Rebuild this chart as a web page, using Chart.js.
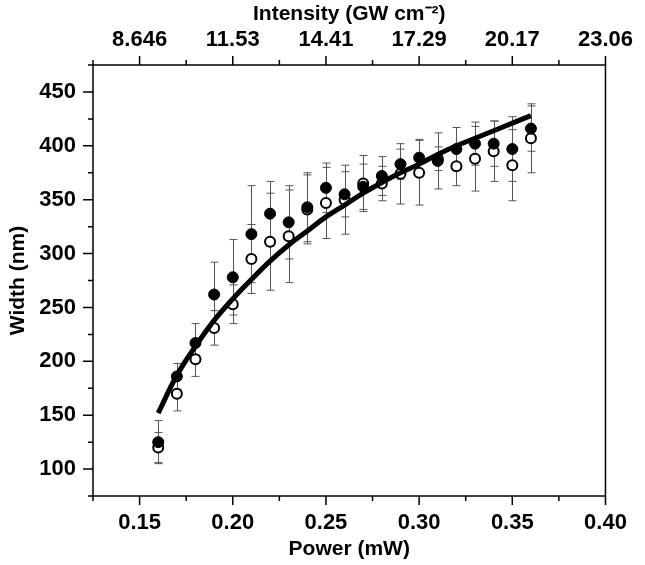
<!DOCTYPE html>
<html lang="en">
<head>
<meta charset="UTF-8">
<title>Width vs Power</title>
<script src="https://cdn.jsdelivr.net/npm/chart.js@4.4.0/dist/chart.umd.min.js"></script>
<style>
  html, body { margin: 0; padding: 0; background: #fff; }
  #wrap { width: 645px; height: 565px; }
</style>
</head>
<body>
<div id="wrap"><canvas id="chart" width="645" height="565"></canvas></div>
<script>
// data
const power = [0.16, 0.17, 0.18, 0.19, 0.20, 0.21, 0.22, 0.23, 0.24, 0.25, 0.26,
               0.27, 0.28, 0.29, 0.30, 0.31, 0.32, 0.33, 0.34, 0.35, 0.36];
const widthFilled = [125, 186, 217, 262, 278, 318, 337, 329, 343, 361, 355,
                     362, 372, 383, 389, 386, 397, 402, 402, 397, 416];
const errFilled = [20, 12, 18, 30, 35, 45, 30, 34, 32, 23, 21,
                   21, 18, 14, 17, 26, 20, 20, 21, 30, 21];
const widthOpen = [120, 170, 202, 231, 253, 295, 311, 316, 341, 347, 350,
                   365, 365, 374, 375, 388, 381, 388, 395, 382, 407];
const errOpen = [14, 16, 16, 16, 18, 32, 45, 43, 32, 33, 32,
                 26, 16, 28, 30, 11, 18, 30, 28, 33, 32];
// fitted curve, read at the same powers
const fitWidth = [152, 187, 214, 238, 258, 276, 293, 308, 321, 334, 345,
                  356, 366, 375, 383, 392, 400, 407, 414, 421, 428];

const powerTicks = [0.15, 0.20, 0.25, 0.30, 0.35, 0.40];
const powerMinor = [0.125, 0.175, 0.225, 0.275, 0.325, 0.375];
const intensityLabels = ['8.646', '11.53', '14.41', '17.29', '20.17', '23.06'];
const widthTicks = [100, 150, 200, 250, 300, 350, 400, 450];
const widthMinor = [75, 125, 175, 225, 275, 325, 375, 425, 475];

const font = { family: "'Liberation Sans', Arial, sans-serif", size: 22, weight: 'bold' };
const titleFont = { family: "'Liberation Sans', Arial, sans-serif", size: 21, weight: 'bold' };

const axisDecor = {
  id: 'axisDecor',
  beforeDatasetsDraw(chart) {
    const { ctx, scales: { x, y } } = chart;
    ctx.save();
    ctx.strokeStyle = '#555';
    ctx.lineWidth = 1;
    [[widthFilled, errFilled], [widthOpen, errOpen]].forEach(([vals, errs]) => {
      vals.forEach((v, i) => {
        const px = Math.round(x.getPixelForValue(power[i])) + 0.5;
        const top = y.getPixelForValue(v + errs[i]);
        const bot = y.getPixelForValue(v - errs[i]);
        ctx.beginPath();
        ctx.moveTo(px, top); ctx.lineTo(px, bot);
        ctx.moveTo(px - 4, top); ctx.lineTo(px + 4, top);
        ctx.moveTo(px - 4, bot); ctx.lineTo(px + 4, bot);
        ctx.stroke();
      });
    });
    ctx.restore();
  },
  afterDraw(chart) {
    const { ctx, chartArea: a, scales: { x, y } } = chart;
    ctx.save();
    ctx.strokeStyle = '#000';
    ctx.lineWidth = 1.5;
    ctx.strokeRect(a.left, a.top, a.right - a.left, a.bottom - a.top);
    ctx.beginPath();
    const xt = (vals, len) => vals.forEach(v => {
      const px = x.getPixelForValue(v);
      ctx.moveTo(px, a.bottom); ctx.lineTo(px, a.bottom + len);
      ctx.moveTo(px, a.top); ctx.lineTo(px, a.top - len);
    });
    const yt = (vals, len) => vals.forEach(v => {
      const py = y.getPixelForValue(v);
      ctx.moveTo(a.left, py); ctx.lineTo(a.left - len, py);
    });
    xt(powerTicks, 9); xt(powerMinor, 5);
    yt(widthTicks, 10); yt(widthMinor, 5);
    ctx.stroke();
    ctx.restore();
  }
};

const toPts = vals => vals.map((v, i) => ({ x: power[i], y: v }));

new Chart(document.getElementById('chart'), {
  type: 'scatter',
  data: {
    datasets: [
      {
        data: toPts(fitWidth), showLine: true, borderColor: '#000', borderWidth: 5,
        pointRadius: 0, tension: 0.4, fill: false
      },
      {
        data: toPts(widthFilled), pointRadius: 5.5, backgroundColor: '#000',
        borderColor: '#000', borderWidth: 1
      },
      {
        data: toPts(widthOpen), pointRadius: 5, backgroundColor: '#fff',
        borderColor: '#000', borderWidth: 2
      }
    ]
  },
  options: {
    responsive: false,
    animation: false,
    layout: { padding: { left: 0, right: 28, top: 0, bottom: 0 } },
    plugins: { legend: { display: false }, tooltip: { enabled: false } },
    scales: {
      x: {
        type: 'linear', position: 'bottom', min: 0.125, max: 0.40,
        afterBuildTicks: s => { s.ticks = powerTicks.map(v => ({ value: v })); },
        afterFit: s => { s.height = 69; },
        grid: { display: false, drawTicks: false },
        border: { display: false },
        ticks: { font, color: '#000', padding: 14, maxRotation: 0, autoSkip: false,
                 callback: v => v.toFixed(2) },
        title: { display: true, text: 'Power (mW)', font: titleFont, color: '#000', padding: { top: 0, bottom: 3 } }
      },
      x2: {
        type: 'linear', position: 'top', min: 0.125, max: 0.40,
        afterBuildTicks: s => { s.ticks = powerTicks.map(v => ({ value: v })); },
        afterFit: s => { s.height = 65; },
        grid: { display: false, drawTicks: false },
        border: { display: false },
        ticks: { font, color: '#000', padding: 12, maxRotation: 0, autoSkip: false,
                 callback: (v, i) => intensityLabels[i] },
        title: { display: true, text: 'Intensity (GW cm\u207B\u00B2)', font: titleFont, color: '#000', padding: { top: 2, bottom: 0 } }
      },
      y: {
        type: 'linear', position: 'left', min: 75, max: 475,
        afterBuildTicks: s => { s.ticks = widthTicks.map(v => ({ value: v })); },
        afterFit: s => { s.width = 93; },
        grid: { display: false, drawTicks: false },
        border: { display: false },
        ticks: { font, color: '#000', padding: 17, autoSkip: false },
        title: { display: true, text: 'Width (nm)', font: titleFont, color: '#000', padding: { top: 6, bottom: 0 } }
      }
    }
  },
  plugins: [axisDecor]
});
</script>
</body>
</html>
